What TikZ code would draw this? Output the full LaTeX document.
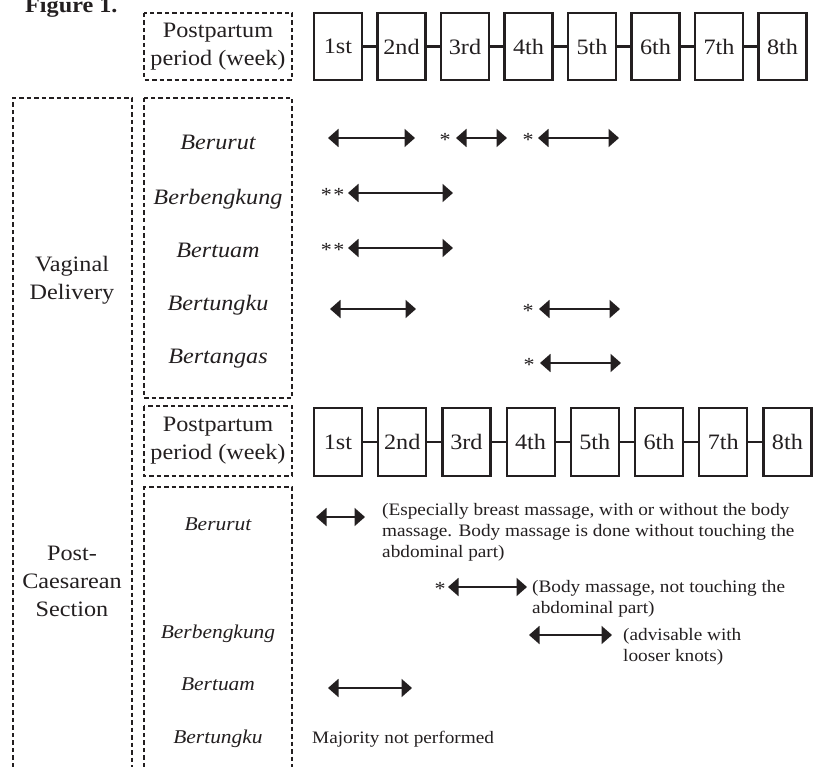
\documentclass[tikz,border=0pt]{standalone}
\usepackage{fontspec}
\setmainfont{Liberation Serif}[FakeStretch=1.1]
\usetikzlibrary{arrows.meta}
\definecolor{ink}{HTML}{231F20}
\newcommand\dblarrow[4]{%
  \coordinate (#1-l) at (#2,#4);
  \coordinate (#1-r) at (#3,#4);
  \draw[dbl] (#1-l) -- (#1-r);}
\begin{document}
\begin{tikzpicture}[x=1pt,y=-1pt,
  dbox/.style={draw=ink, line width=1.7pt, dash pattern=on 4.5pt off 3pt},
  wk/.style={draw=ink, line width=2.2pt, minimum width=48pt, minimum height=67.5pt, inner sep=0pt, font=\fontsize{22}{26}\selectfont, text=ink},
  wlink/.style={draw=ink, line width=2.2pt},
  dbl/.style={draw=ink, line width=1.9pt, {Triangle[length=10.5pt,width=18pt]}-{Triangle[length=10.5pt,width=18pt]}},
  bigtxt/.style={font=\fontsize{22}{28}\selectfont, text=ink, align=center, inner sep=0pt},
  vname/.style={font=\fontsize{22}{26}\selectfont\itshape, text=ink, inner sep=0pt, anchor=base},
  cname/.style={font=\fontsize{19.5}{24}\selectfont\itshape, text=ink, inner sep=0pt, anchor=base},
  notetxt/.style={font=\fontsize{17.5}{21}\selectfont, text=ink, align=left, inner sep=0pt, anchor=north west},
  astx/.style={font=\fontsize{20}{24}\selectfont, text=ink, inner sep=0pt, anchor=base, yshift=-8.5pt},
]
\useasboundingbox (0,0) rectangle (818,767);
\fill[white] (0,0) rectangle (818,767);

% title (cut at top)
\node[font=\fontsize{22}{26}\selectfont\bfseries, text=ink, anchor=base west, inner sep=0pt] (fig) at (25,13) {Figure 1.};

% dashed frames
\draw[dbox] (13,767) -- (13,98) -- (132,98) -- (132,767);
\draw[dbox] (144,13) rectangle (292,80);
\draw[dbox] (144,98) rectangle (292,398);
\draw[dbox] (144,406) rectangle (292,476);
\draw[dbox] (144,767) -- (144,487) -- (292,487) -- (292,767);

% headers
\node[bigtxt] (pp1) at (218,47) {Postpartum\\period (week)};
\node[bigtxt] (pp2) at (218,441) {Postpartum\\period (week)};
\node[bigtxt] (vd) at (72,280) {Vaginal\\Delivery};
\node[bigtxt] (pcs) at (72,581) {Post-\\Caesarean\\Section};

% week rows
\foreach \i/\t in {1/1st,2/2nd,3/3rd,4/4th,5/5th,6/6th,7/7th,8/8th}{
  \node[wk] (a\i) at ({338+(\i-1)*63.5},46.5) {\t};
  \node[wk] (b\i) at ({338+(\i-1)*64.2},442) {\t};
}
\foreach \i in {1,...,7}{
  \pgfmathtruncatemacro\j{\i+1}
  \draw[wlink] (a\i) -- (a\j);
  \draw[wlink] (b\i) -- (b\j);
}

% vaginal delivery names
\node[vname] (v1) at (218,150) {Berurut};
\node[vname] (v2) at (218,205) {Berbengkung};
\node[vname] (v3) at (218,257) {Bertuam};
\node[vname] (v4) at (218,310) {Bertungku};
\node[vname] (v5) at (218,363) {Bertangas};

% vaginal delivery arrows
\dblarrow{r1a}{328}{415}{138}
\node[astx] (s1) at (445,138) {*};
\dblarrow{r1b}{456}{507}{138}
\node[astx] (s2) at (528,138) {*};
\dblarrow{r1c}{538}{619}{138}
\node[astx] (s3) at (332.5,193) {*\hspace{1.5pt}*};
\dblarrow{r2}{348}{453}{193}
\node[astx] (s4) at (332.5,248) {*\hspace{1.5pt}*};
\dblarrow{r3}{348}{453}{248}
\dblarrow{r4a}{330}{416}{309}
\node[astx] (s5) at (528,309) {*};
\dblarrow{r4b}{539}{620}{309}
\node[astx] (s6) at (529,363) {*};
\dblarrow{r5}{540}{621}{363}

% post-caesarean names
\node[cname] (c1) at (218,530) {Berurut};
\node[cname] (c2) at (218,638) {Berbengkung};
\node[cname] (c3) at (218,690) {Bertuam};
\node[cname] (c4) at (218,743) {Bertungku};

% post-caesarean arrows and notes
\dblarrow{p1}{316}{365}{517}
\node[notetxt] (n1) at (382,503) {(Especially breast massage, with or without the body\\massage. Body massage is done without touching the\\abdominal part)};
\node[astx] (s7) at (440,587) {*};
\dblarrow{p2}{448}{527}{587}
\node[notetxt] (n2) at (532,580) {(Body massage, not touching the\\abdominal part)};
\dblarrow{p3}{529}{612}{635}
\node[notetxt] (n3) at (623,628) {(advisable with\\looser knots)};
\dblarrow{p4}{328}{412}{688}
\node[notetxt, anchor=base west] (n4) at (312,743) {Majority not performed};
\end{tikzpicture}
\end{document}
